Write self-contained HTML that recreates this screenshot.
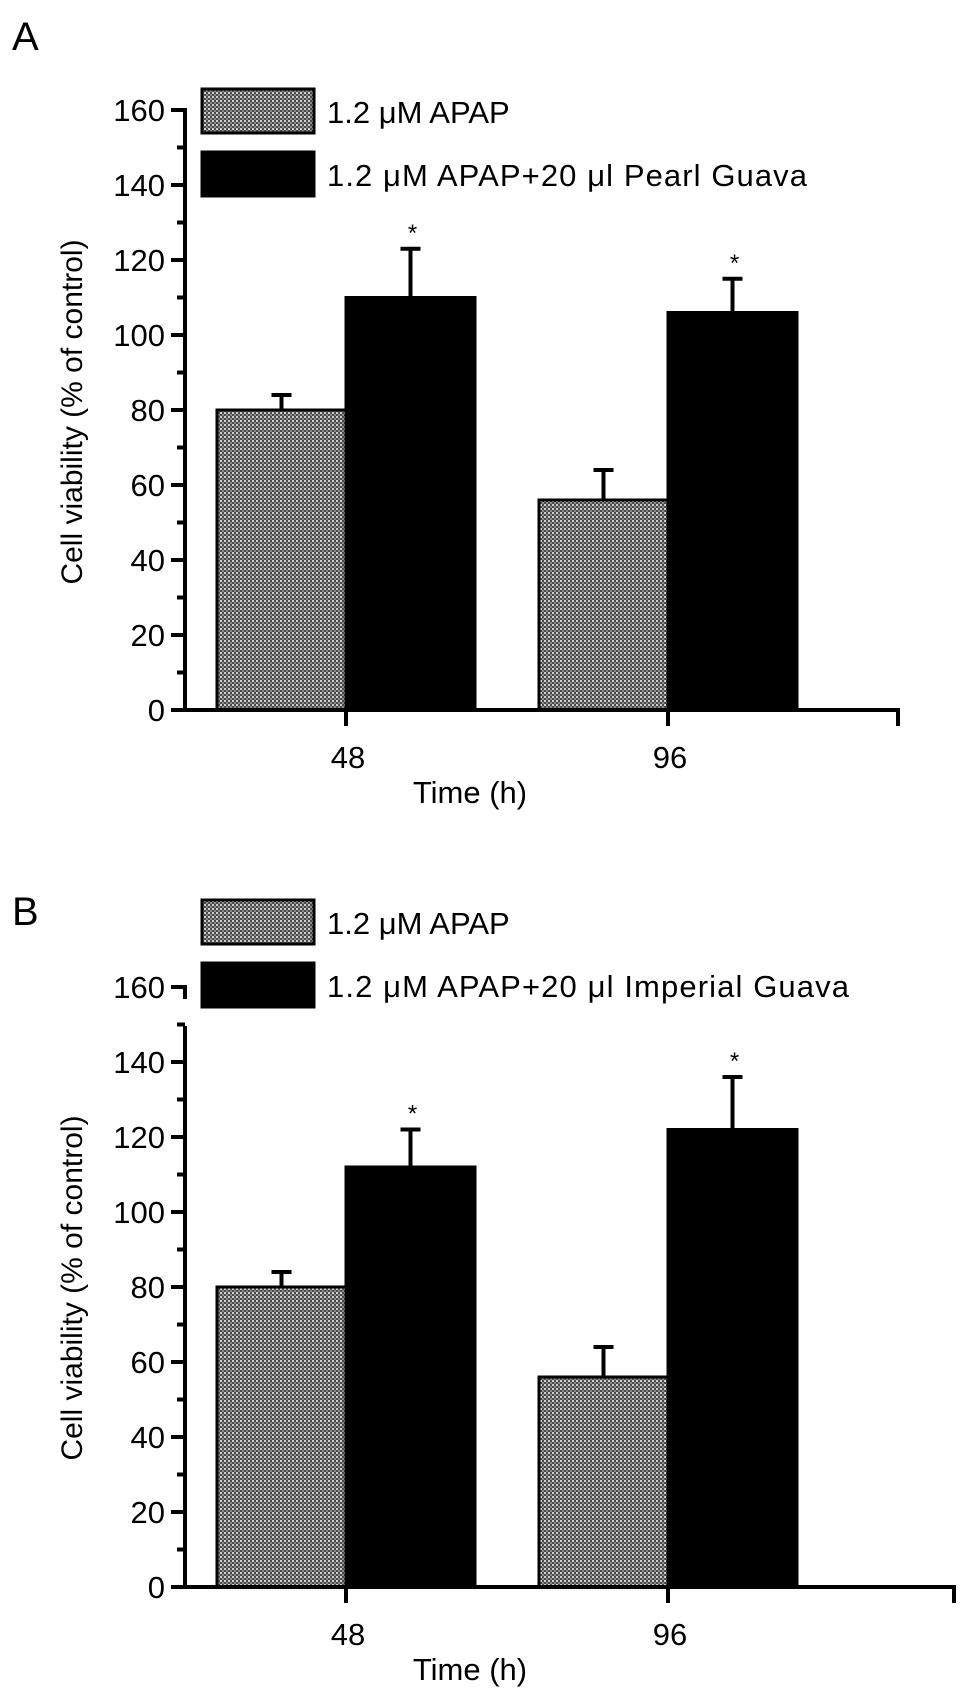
<!DOCTYPE html>
<html><head><meta charset="utf-8"><style>
html,body{margin:0;padding:0;background:#fff;}
svg{display:block;font-family:"Liberation Sans",Arial,sans-serif;}
</style></head><body>
<svg id="chart" width="969" height="1696" viewBox="0 0 969 1696" xmlns="http://www.w3.org/2000/svg">
<defs>
<pattern id="dots" width="4" height="4" patternUnits="userSpaceOnUse">
<rect width="4" height="4" fill="#4a4a4a"/>
<rect x="0" y="0" width="2" height="2" fill="#d0d0d0"/>
<rect x="2" y="2" width="2" height="2" fill="#8a8a8a"/>
</pattern>
</defs>
</svg>
<script>
const categories = ["48", "96"];
const yTicks = [0, 20, 40, 60, 80, 100, 120, 140, 160];
const seriesLabelsA = ["1.2 \u03bcM APAP", "1.2 \u03bcM APAP+20 \u03bcl Pearl Guava"];
const seriesLabelsB = ["1.2 \u03bcM APAP", "1.2 \u03bcM APAP+20 \u03bcl Imperial Guava"];
const apapA = [80, 56];
const apapErrA = [4, 8];
const guavaA = [110, 106];
const guavaErrA = [13, 9];
const apapB = [80, 56];
const apapErrB = [4, 8];
const guavaB = [112, 122];
const guavaErrB = [10, 14];

const svg = document.getElementById('chart');
const NS = 'http://www.w3.org/2000/svg';
function mk(tag, attrs, parent) {
  const e = document.createElementNS(NS, tag);
  for (const k in attrs) e.setAttribute(k, attrs[k]);
  (parent || svg).appendChild(e);
  return e;
}

function panel(cfg) {
  const g = mk('g', {});
  
  
  const y = v => cfg.y0 - (v / 160) * (cfg.y0 - cfg.y160);
  const catX = i => cfg.catX0 + i * cfg.catStep;
  const bw = 129;

  const lt = mk('text', {x: 12, y: cfg.letterY, 'font-size': 40}, g);
  lt.textContent = cfg.letter;
  
  

  const series = [[cfg.apap, cfg.apapErr, 'url(#dots)', -1], [cfg.guava, cfg.guavaErr, '#000', 0]];
  series.forEach((s, si) => {
    s[0].forEach((v, i) => {
      const x = catX(i) + s[3] * bw;
      const r = mk('rect', {x: x, y: y(v), width: bw, height: y(0) - y(v), fill: s[2], stroke: '#000', 'stroke-width': 3}, g);
      
      
      const cx = x + bw / 2;
      const top = y(v + s[1][i]);
      const el = mk('line', {x1: cx, x2: cx, y1: y(v), y2: top, stroke: '#000', 'stroke-width': 4}, g);
      
      
      const cap = mk('line', {x1: cx - 10, x2: cx + 10, y1: top, y2: top, stroke: '#000', 'stroke-width': 4}, g);
      
      
      if (si === 1) {
        const st = mk('text', {x: cx + 2, y: top - 8, 'font-size': 24, 'text-anchor': 'middle'}, g);
        st.textContent = '*';
        
        
      }
    });
  });

  const ya = mk('line', {x1: cfg.ax, x2: cfg.ax, y1: cfg.axisTop, y2: y(0) + 1.5, stroke: '#000', 'stroke-width': 4}, g);
  
  
  if (cfg.stub) {
    mk('line', {x1: cfg.ax, x2: cfg.ax, y1: y(160) - 2, y2: y(160) + 12, stroke: '#000', 'stroke-width': 4}, g);
  }
  for (let v = 0; v <= 160; v += 10) {
    const major = v % 20 === 0;
    mk('line', {x1: cfg.ax - (major ? 14 : 8), x2: cfg.ax, y1: y(v), y2: y(v), stroke: '#000', 'stroke-width': 4}, g);
  }
  yTicks.forEach(v => {
    const t = mk('text', {x: cfg.ax - 20, y: y(v) + 11, 'font-size': 31, 'text-anchor': 'end'}, g);
    t.textContent = v;
    
    
  });
  const yt = mk('text', {x: 0, y: 0, 'font-size': 30, 'text-anchor': 'middle', transform: 'translate(82,' + cfg.yTitleY + ') rotate(-90)'}, g);
  yt.textContent = 'Cell viability (% of control)';
  
  

  const xa = mk('line', {x1: cfg.ax - 14, x2: cfg.axEnd + 2, y1: y(0), y2: y(0), stroke: '#000', 'stroke-width': 4}, g);
  
  
  mk('line', {x1: cfg.axEnd, x2: cfg.axEnd, y1: y(0), y2: y(0) + 16, stroke: '#000', 'stroke-width': 4}, g);
  categories.forEach((c, i) => {
    mk('line', {x1: catX(i), x2: catX(i), y1: y(0), y2: y(0) + 16, stroke: '#000', 'stroke-width': 4}, g);
    const t = mk('text', {x: catX(i) + 2, y: y(0) + 58, 'font-size': 31, 'text-anchor': 'middle'}, g);
    t.textContent = c;
    
    
  });
  const xt = mk('text', {x: 470, y: y(0) + 93, 'font-size': 31, 'text-anchor': 'middle'}, g);
  xt.textContent = 'Time (h)';
  
  

  const fills = ['url(#dots)', '#000'];
  cfg.labels.forEach((lab, i) => {
    const ly = cfg.legY[i];
    const lg = mk('g', {}, g);
    
    
    mk('rect', {x: 202, y: ly, width: 112, height: 44, fill: fills[i], stroke: '#000', 'stroke-width': 3}, lg);
    const t = mk('text', {x: 327, y: ly + 34, 'font-size': 31}, lg);
    t.textContent = lab;
    if (i === 1) t.setAttribute('textLength', cfg.len2);
  });
}

panel({name: 'panel-a', letter: 'A', letterY: 50, y0: 710, y160: 110, ax: 185, axisTop: 108, axEnd: 898,
  catX0: 346, catStep: 322, apap: apapA, apapErr: apapErrA, guava: guavaA, guavaErr: guavaErrA,
  labels: seriesLabelsA, legY: [89, 152], len2: 480, yTitleY: 412});
panel({name: 'panel-b', letter: 'B', letterY: 925, y0: 1587, y160: 987, ax: 185, axisTop: 1026, axEnd: 954, stub: true,
  catX0: 346, catStep: 322, apap: apapB, apapErr: apapErrB, guava: guavaB, guavaErr: guavaErrB,
  labels: seriesLabelsB, legY: [900, 963], len2: 522, yTitleY: 1288});
</script>
</body></html>
